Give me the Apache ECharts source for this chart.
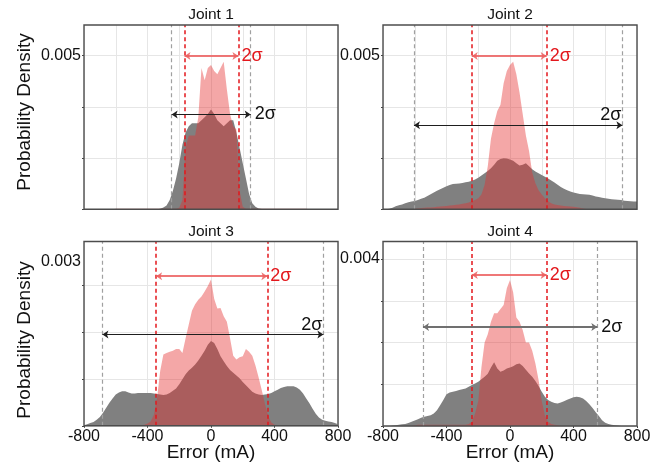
<!DOCTYPE html>
<html>
<head>
<meta charset="utf-8">
<script src="https://cdn.jsdelivr.net/npm/echarts@6/dist/echarts.min.js"></script>
<style>html,body{margin:0;padding:0;background:#fff}#chart{width:662px;height:466px}</style>
</head>
<body>
<div id="chart"></div>
<script>
// ---------- DATA ----------
const errorGrid = [-800,-780,-760,-740,-720,-700,-680,-660,-640,-620,-600,-580,-560,-540,-520,-500,-480,-460,-440,-420,-400,-380,-360,-340,-320,-300,-280,-260,-240,-220,-200,-180,-160,-140,-120,-100,-80,-60,-40,-20,0,20,40,60,80,100,120,140,160,180,200,220,240,260,280,300,320,340,360,380,400,420,440,460,480,500,520,540,560,580,600,620,640,660,680,700,720,740,760,780,800];
const jointNames = ['Joint 1','Joint 2','Joint 3','Joint 4'];

const j1Gray = [0,0,0,0,0,0,0,0,0,0,0,0,0,0,0,0,0,0,0,0,0,0,0,0,
 0.00002,0.00006,0.00012,0.0003,0.0006,0.001,0.0015,0.0021,0.0025,0.0027,0.0028,0.0028,0.0028,0.0029,0.003,0.0031,
 0.00325,0.0031,0.0029,0.0028,0.0027,0.0028,0.0029,0.0029,0.0025,0.002,0.0015,0.001,0.0005,0.0002,0.00008,0.00003,0.00001,
 0,0,0,0,0,0,0,0,0,0,0,0,0,0,0,0,0,0,0,0,0,0,0,0];
const j1Red = [0,0,0,0,0,0,0,0,0,0,
 0.00002,0.00002,0.00002,0.00002,0.00002,0.00002,0.00002,0.00002,0.00002,0.00002,0.00002,0.00002,0.00002,0.00002,0.00002,0.00002,0.00002,0.00002,0.00002,0.00002,
 0.00005,0.0003,0.002,0.0024,0.0024,0.0024,0.003,0.0046,0.0042,0.0046,
 0.0047,0.0045,0.0044,0.0046,0.0048,0.0039,0.0031,0.0027,0.0026,0.0006,0.00008,
 0.00002,0.00002,0.00002,0.00002,0.00002,0.00002,0.00002,0.00002,0.00002,0.00002,0.00002,0.00002,0.00002,0.00002,0.00002,0.00002,0.00002,0.00002,0.00002,0.00002,
 0,0,0,0,0,0,0,0,0,0];

const j2Gray = [0,0,0.00002,0.00005,0.0001,0.00013,0.00016,0.0002,0.00023,0.00025,
 0.00027,0.0003,0.00034,0.00038,0.00043,0.00049,0.00055,0.0006,0.00065,0.0007,
 0.00075,0.00079,0.00082,0.00083,0.00084,0.00086,0.00088,0.0009,0.00093,0.00097,
 0.00103,0.0011,0.00117,0.00125,0.00134,0.00145,0.00158,0.00164,0.00166,0.00165,
 0.00162,0.00158,0.0015,0.00143,0.00145,0.0015,0.0014,0.0013,0.00123,0.00117,
 0.00112,0.00106,0.001,0.00094,0.00087,0.0008,0.00073,0.00067,0.00062,0.00058,
 0.00055,0.00052,0.0005,0.00049,0.00048,0.00047,0.00045,0.00042,0.0004,0.00038,
 0.00036,0.00034,0.00033,0.00032,0.00031,0.0003,0.00028,0.00027,0.00026,0.00025,0.00025];
const j2Red = [0,0,0,0,0,0,0,0,0,0,
 0.00002,0.00003,0.00004,0.00005,0.00006,0.00006,0.00007,0.00008,0.00009,0.0001,
 0.00011,0.00012,0.00013,0.00015,0.00016,0.00018,0.0002,0.00022,0.00026,0.0003,
 0.00036,0.00048,0.0008,0.0014,0.0023,0.0028,0.0032,0.0034,0.0041,0.0045,
 0.0047,0.0048,0.0044,0.0038,0.0031,0.0024,0.0019,0.0012,0.00085,0.00062,
 0.00048,0.00036,0.00026,0.0002,0.00016,0.00014,0.00012,0.00011,0.0001,0.00009,
 0.00008,0.00007,0.00005,0.00003,0.00001,
 0,0,0,0,0,0,0,0,0,0,0,0,0,0,0,0];

const j3Gray = [0.00001,0.00003,0.00005,0.00007,0.00011,0.00016,0.00024,0.00033,0.00042,0.0005,
 0.00057,0.00061,0.00063,0.00063,0.00061,0.00059,0.00059,0.0006,0.0006,0.0006,
 0.0006,0.0006,0.00059,0.00058,0.00057,0.00056,0.00057,0.0006,0.00064,0.00068,
 0.00076,0.00085,0.00094,0.00101,0.00106,0.00112,0.00119,0.00128,0.00137,0.00148,
 0.00155,0.00151,0.0014,0.00127,0.00118,0.00109,0.00102,0.00097,0.00092,0.00087,
 0.0008,0.00074,0.00068,0.00062,0.00059,0.00057,0.00056,0.00057,0.00058,0.0006,
 0.00063,0.00066,0.00069,0.00071,0.00072,0.00072,0.00072,0.0007,0.00066,0.00059,
 0.0005,0.00041,0.00031,0.00022,0.00015,0.00011,0.00009,0.00008,0.00007,0.00005,0.00003];
const j3Red = [0,0,0,0,0,0,0,0,0,0,0,0,0,0,0,0,0,0,
 0.00001,0.00002,0.00004,0.00008,0.0002,0.0005,0.001,0.0013,0.00133,0.00135,0.00137,0.0014,
 0.0014,0.00133,0.0016,0.00185,0.0021,0.00222,0.0023,0.00236,0.00245,0.00255,
 0.00267,0.00232,0.00214,0.00215,0.002,0.0019,0.0016,0.00128,0.00121,0.00125,
 0.00127,0.0014,0.00135,0.00128,0.0011,0.00088,0.00065,0.0004,0.00018,0.00006,
 0.00002,0.00001,
 0,0,0,0,0,0,0,0,0,0,0,0,0,0,0,0,0,0,0];

const j4Gray = [0,0,0,0.00001,0.00002,0.00003,0.00004,0.00005,0.00007,0.0001,
 0.00013,0.00016,0.0002,0.00022,0.00024,0.00026,0.0003,0.00038,0.0005,0.00062,
 0.00076,0.0008,0.00082,0.00084,0.00086,0.00088,0.0009,0.00094,0.00098,0.00102,
 0.00106,0.00112,0.00118,0.00125,0.0014,0.00153,0.00138,0.0013,0.00133,0.00138,
 0.0014,0.00143,0.00148,0.0015,0.00144,0.00135,0.00126,0.00118,0.00108,0.00096,
 0.00082,0.0007,0.00062,0.00058,0.00055,0.00054,0.00056,0.00059,0.00063,0.00066,
 0.00069,0.0007,0.00069,0.00066,0.0006,0.00052,0.00043,0.00033,0.00024,0.00014,
 0.00008,0.00005,0.00003,0.00002,0.00001,0,0,0,0,0,0];
const j4Red = [0,0,0,0,0,0,0,0,0,0,
 0.00001,0.00003,0.00003,0.00003,0.00003,0.00003,0.00003,0.00003,0.00003,0.00003,
 0.00003,0.00003,0.00003,0.00003,0.00003,0.00003,0.00003,0.00005,0.0001,0.0003,
 0.0006,0.0014,0.002,0.0022,0.0025,0.0027,0.0027,0.0028,0.0029,0.0033,
 0.0035,0.0032,0.0026,0.0025,0.0023,0.002,0.002,0.0018,0.0015,0.0011,
 0.0006,0.00025,0.0001,0.00005,0.00003,0.00002,
 0,0,0,0,0,0,0,0,0,0,0,0,0,0,0,0,0,0,0,0,0,0,0,0,0];

// sigma bounds (mA) and arrow heights (density)
const redSigma  = [[-167,173],[-241,231],[-346,355],[-241,231]];
const graySigma = [[-248,250],[-605,708],[-684,708],[-548,550]];
const redArrowY  = [0.00499,0.00499,0.00273,0.00362];
const grayArrowY = [0.00309,0.002735,0.001665,0.00237];

// axis ticks / labels
const xTickValues = [-800,-400,0,400,800];
const yLabelValues = [0.005,0.005,0.003,0.004];
const yLabelText = ['0.005','0.005','0.003','0.004'];
const yMax = [0.006,0.006,0.003364,0.00442];
const yGridStep = [0.005/6,0.005/6,0.003/7,0.0005];

// ---------- BUILD ----------
const grayData = [j1Gray,j2Gray,j3Gray,j4Gray];
const redData = [j1Red,j2Red,j3Red,j4Red];
const FONT = '"Liberation Sans", Arial, Helvetica, sans-serif';
const layout = [
  {left:84, top:25, width:254, height:184.3},
  {left:383, top:25, width:254, height:184.3},
  {left:84, top:241.5, width:254, height:184.3},
  {left:383, top:241.5, width:254, height:184.5}
];
const grayLabelPos = ['end','insideEndTop','insideEndTop','end'];
const grayArrowColor = ['#1e1e1e','#1e1e1e','#1e1e1e','#707070'];
const grayArrowWidth = [1.2,1.2,1.2,1.8];

const grids=[], xAxes=[], yAxes=[], series=[], graphics=[];
for (let p=0;p<4;p++){
  const bottom = p>=2;
  grids.push(Object.assign({show:false}, layout[p]));
  grids.push(Object.assign({show:true, z:10, backgroundColor:'transparent', borderColor:'#4d4d4d', borderWidth:1.4}, layout[p]));
  xAxes.push({
    gridIndex:2*p, type:'value', min:-800, max:800, interval:200, position:'bottom',
    axisLine:{show:false, onZero:false},
    axisTick: bottom ? {show:true, length:2, customValues:xTickValues, lineStyle:{color:'#444'}} : {show:false},
    axisLabel: bottom ? {show:true, customValues:xTickValues, fontSize:16, color:'#111', margin:3, fontFamily:FONT} : {show:false},
    splitLine:{show:true, lineStyle:{color:'#e6e6e6', width:1}}
  });
  xAxes.push({gridIndex:2*p+1, type:'value', min:-800, max:800, show:false});
  const tickVals = [];
  for (let k=0; k*2*yGridStep[p] <= yMax[p]+1e-9; k++) tickVals.push(k*2*yGridStep[p]);
  yAxes.push({
    gridIndex:2*p, type:'value', min:0, max:yMax[p], interval:yGridStep[p], position:'left',
    axisLine:{show:false, onZero:false},
    axisTick:{show:true, length:2, customValues:tickVals, lineStyle:{color:'#444'}},
    axisLabel:{show:true, customValues:[yLabelValues[p]], formatter:()=>yLabelText[p], fontSize:16, color:'#111', margin:3, fontFamily:FONT},
    splitLine:{show:true, lineStyle:{color:'#e6e6e6', width:1}}
  });
  yAxes.push({gridIndex:2*p+1, type:'value', min:0, max:yMax[p], show:false});

  series.push({
    type:'line', xAxisIndex:2*p, yAxisIndex:2*p, silent:true, z:2,
    data: errorGrid.map((x,i)=>[x, grayData[p][i]]),
    symbol:'none', lineStyle:{width:0}, areaStyle:{color:'#808080', opacity:1},
    markLine:{silent:true, symbol:'none', label:{show:false}, animation:false,
      data:[
        {xAxis:graySigma[p][0], lineStyle:{color:'#a0a0a0', type:[4,3], width:1.2}},
        {xAxis:graySigma[p][1], lineStyle:{color:'#a0a0a0', type:[4,3], width:1.2}},
        {xAxis:redSigma[p][0], lineStyle:{color:'#e3171c', type:[4,3], width:1.5}},
        {xAxis:redSigma[p][1], lineStyle:{color:'#e3171c', type:[4,3], width:1.5}}
      ]}
  });
  series.push({
    type:'line', xAxisIndex:2*p, yAxisIndex:2*p, silent:true, z:3,
    data: errorGrid.map((x,i)=>[x, redData[p][i]]),
    symbol:'none', lineStyle:{width:0}, areaStyle:{color:'rgba(228,45,45,0.42)', opacity:1},
    markLine:{silent:true, symbol:['arrow','arrow'], symbolSize:6, animation:false,
      data:[
        [{coord:[redSigma[p][0], redArrowY[p]],
          lineStyle:{color:'rgba(236,95,95,0.85)', width:2, type:'solid'},
          label:{show:true, position:'end', formatter:'2σ', color:'#e3171c', fontSize:18, fontFamily:FONT, distance:3}},
         {coord:[redSigma[p][1], redArrowY[p]]}],
        [{coord:[graySigma[p][0], grayArrowY[p]],
          lineStyle:{color:grayArrowColor[p], width:grayArrowWidth[p], type:'solid'},
          label:{show:true, position:grayLabelPos[p], formatter:'2σ', color:'#111', fontSize:18, fontFamily:FONT, distance: grayLabelPos[p]==='end'?4:1}},
         {coord:[graySigma[p][1], grayArrowY[p]]}]
      ]}
  });

  const cx = layout[p].left + layout[p].width/2;
  graphics.push({type:'text', x:cx, y: layout[p].top - 10, style:{text:jointNames[p], fontSize:15.5, fontFamily:FONT, fill:'#111', align:'center', verticalAlign:'middle'}});
  if (bottom) graphics.push({type:'text', x:cx, y:453, style:{text:'Error (mA)', fontSize:19, fontFamily:FONT, fill:'#111', align:'center', verticalAlign:'middle'}});
}
graphics.push({type:'text', x:25, y:112, rotation:Math.PI/2, style:{text:'Probability Density', fontSize:19, fontFamily:FONT, fill:'#111', align:'center', verticalAlign:'middle'}});
graphics.push({type:'text', x:25, y:340, rotation:Math.PI/2, style:{text:'Probability Density', fontSize:19, fontFamily:FONT, fill:'#111', align:'center', verticalAlign:'middle'}});

const chart = echarts.init(document.getElementById('chart'), null, {renderer:'canvas'});
chart.setOption({
  animation:false,
  backgroundColor:'#ffffff',
  textStyle:{fontFamily:FONT},
  grid:grids, xAxis:xAxes, yAxis:yAxes, series:series, graphic:graphics
});
</script>
</body>
</html>
